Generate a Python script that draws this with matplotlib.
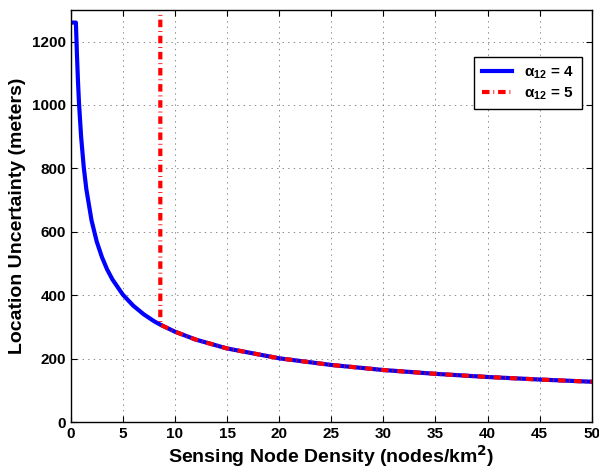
import matplotlib
matplotlib.use('Agg')
import matplotlib.pyplot as plt

# values
density = [0, 0.5, 0.6, 0.7, 0.8, 1, 1.25, 1.5, 2, 2.5, 3, 3.5, 4, 5, 6, 7, 8,
           8.6, 10, 12, 15, 20, 25, 30, 35, 40, 45, 50]
uncert_a4 = [1260, 1260, 1160, 1075, 1005, 900, 805, 735, 636, 569, 520, 481,
             450, 402, 367, 340, 318, 307, 285, 260, 232, 201, 180, 164, 152,
             142, 134, 127]
# alpha_12 = 5: vertical jump near 8.6, then the same curve
density_a5 = [8.6, 8.6] + density[17:]
uncert_a5 = [1320, 307] + uncert_a4[17:]

plt.rcParams['font.family'] = ['Liberation Sans', 'DejaVu Sans']
plt.rcParams['font.weight'] = 'bold'
plt.rcParams['mathtext.default'] = 'regular'
plt.rcParams['lines.scale_dashes'] = False

fig = plt.figure(figsize=(5.99, 4.71), dpi=100)
ax = fig.add_axes([0.118, 0.104, 0.870, 0.875])

ax.plot(density, uncert_a4, color='#0000ff', linewidth=3,
        label=r'$\alpha_{12}$ = 4')
ax.plot(density_a5, uncert_a5, color='#ff0000', linewidth=3,
        linestyle='-.', dashes=(5.4, 2.8, 0.6, 2.8), dash_capstyle='butt',
        label=r'$\alpha_{12}$ = 5')

ax.set_xlim(0, 50)
ax.set_ylim(0, 1300)
ax.set_xticks(range(0, 51, 5))
ax.set_yticks(range(0, 1201, 200))
ax.tick_params(direction='in', top=True, right=True, labelsize=11,
               length=4, width=0.8)
for lbl in ax.get_xticklabels() + ax.get_yticklabels():
    lbl.set_fontweight('bold')
ax.grid(True, linestyle=(0, (1, 3)), color='#777777', linewidth=0.6)
for s in ax.spines.values():
    s.set_linewidth(1.0)

ax.set_xlabel(r'Sensing Node Density (nodes/km$^{\mathbf{2}}$)', fontsize=14,
              fontweight='bold', labelpad=2)
ax.set_ylabel('Location Uncertainty (meters)', fontsize=14,
              fontweight='bold', labelpad=4)

leg = ax.legend(loc='upper right', bbox_to_anchor=(0.995, 0.905),
                fontsize=11, handlelength=2.0, fancybox=False,
                framealpha=1, edgecolor='black', borderpad=0.5,
                labelspacing=0.3)
leg.get_frame().set_linewidth(1.0)
for t in leg.get_texts():
    t.set_fontweight('bold')

plt.savefig('out.png', dpi=100)
